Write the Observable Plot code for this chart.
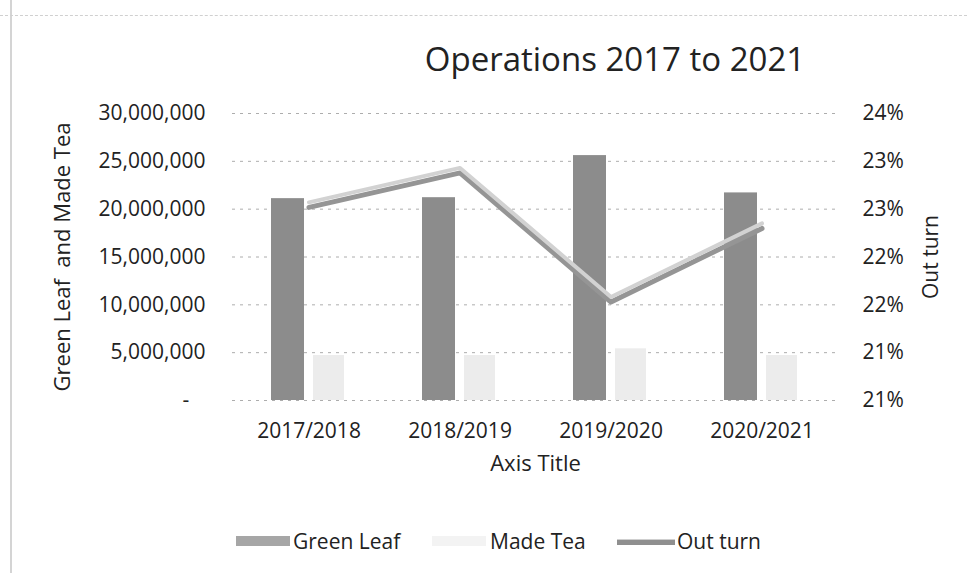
<!DOCTYPE html>
<html><head><meta charset="utf-8">
<script src="https://cdn.jsdelivr.net/npm/d3@7"></script>
<script src="https://cdn.jsdelivr.net/npm/@observablehq/plot@0.6"></script>
<style>
body{margin:0;background:#fff;font-family:"Open Sans",sans-serif;width:967px;height:573px;overflow:hidden;position:relative;color:#222}
#title{position:absolute;top:37px;left:615px;transform:translateX(-50%);font-size:33px;line-height:44px;white-space:nowrap}
#chart{position:absolute;top:85px;left:0}
.lg{position:absolute;top:527px;font-size:21px;line-height:28px;white-space:nowrap}
.sw{position:absolute}
#edge{position:absolute;left:10px;top:0;width:2px;height:573px;background:#d4d4d4}
#topline{position:absolute;left:0px;top:15px;width:967px;border-top:1px dashed #d0d0d0}
</style></head>
<body>
<div id="edge"></div><div id="topline"></div>
<div id="title">Operations 2017 to 2021</div>
<div id="chart"></div>
<div class="sw" style="left:236px;top:536px;width:54px;height:10px;background:#a6a6a6"></div>
<div class="lg" style="left:293px">Green Leaf</div>
<div class="sw" style="left:432px;top:536px;width:54px;height:10px;background:#f3f3f3"></div>
<div class="lg" style="left:490px">Made Tea</div>
<div class="sw" style="left:617px;top:539px;width:58px;height:5px;background:#8f8f8f;border-top:1px solid #cfcfcf"></div>
<div class="lg" style="left:677px">Out turn</div>
<script>
const categories = ["2017/2018", "2018/2019", "2019/2020", "2020/2021"];
const greenLeaf = [21100000, 21200000, 25600000, 21700000];
const madeTea = [4700000, 4700000, 5400000, 4700000];
const outTurn = [22.54, 22.90, 21.55, 22.32]; // percent
const leftTicks = [0, 5000000, 10000000, 15000000, 20000000, 25000000, 30000000];
const rightMin = 20.5, rightMax = 23.5; // percent range of the secondary axis
const leftMax = 30000000;
const leftTitle = "Green Leaf\u00a0 and Made Tea";
const rightTitle = "Out turn";
const xTitle = "Axis Title";

const toLeft = p => (p - rightMin) / (rightMax - rightMin) * leftMax;
const fromLeft = v => rightMin + v / leftMax * (rightMax - rightMin);

const rows = categories.map((c, i) => ({
  category: c, greenLeaf: greenLeaf[i], madeTea: madeTea[i], outTurn: toLeft(outTurn[i])
}));

const chart = Plot.plot({
  width: 967, height: 410,
  marginTop: 28, marginBottom: 95, marginLeft: 232, marginRight: 129,
  style: {fontFamily: "Open Sans, sans-serif", fontSize: "21px", color: "#222", background: "transparent"},
  x: {domain: categories, padding: 0},
  y: {domain: [0, leftMax]},
  marks: [
    Plot.ruleY(leftTicks, {stroke: "#8a8a8a", strokeDasharray: "3,5", strokeOpacity: 0.7}),
    Plot.barY(rows, {x: "category", y: "greenLeaf", fill: "#8c8c8c", insetLeft: 38, insetRight: 80}),
    Plot.barY(rows, {x: "category", y: "madeTea", fill: "#ececec", insetLeft: 80, insetRight: 40}),
    Plot.lineY(rows, {x: "category", y: "outTurn", stroke: "#959595", strokeWidth: 5, dy: 2}),
    Plot.lineY(rows, {x: "category", y: "outTurn", stroke: "#d2d2d2", strokeWidth: 4, dy: -3}),
    Plot.axisX({tickSize: 0, tickPadding: 23, label: null}),
    Plot.axisY({anchor: "left", ticks: leftTicks, tickSize: 0, tickPadding: 27,
      tickFormat: d => d === 0 ? "-\u00a0\u00a0\u00a0" : d3.format(",")(d), label: null}),
    Plot.axisY({anchor: "right", ticks: leftTicks, tickSize: 0, tickPadding: 24,
      tickFormat: d => Math.round(fromLeft(d)) + "%", label: null}),
    Plot.text([leftTitle], {text: d => d, frameAnchor: "left", rotate: -90, dx: -170, textAnchor: "middle", fontSize: 22}),
    Plot.text([rightTitle], {text: d => d, frameAnchor: "right", rotate: -90, dx: 93, textAnchor: "middle", fontSize: 21}),
    Plot.text([xTitle], {text: d => d, frameAnchor: "bottom", dy: 70, textAnchor: "middle", fontSize: 22})
  ]
});
document.getElementById("chart").appendChild(chart);
</script>
</body></html>
